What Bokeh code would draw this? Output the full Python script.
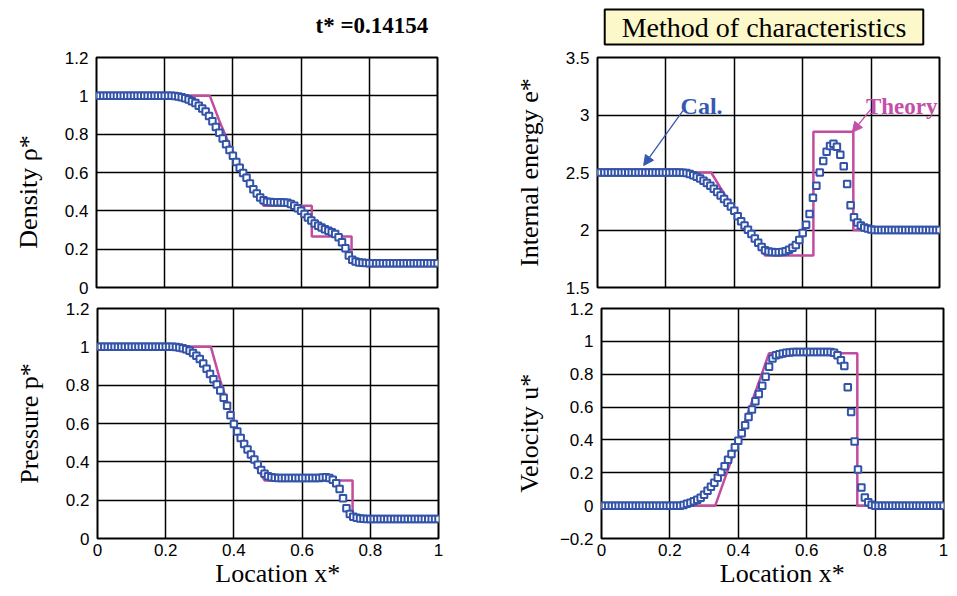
from bokeh.plotting import figure
from bokeh.models import Range1d, FixedTicker, Label, Arrow, NormalHead
from bokeh.layouts import column, row
from bokeh.embed import file_html
from bokeh.resources import INLINE

# ---------------- data ----------------
x_cal = [0.00, 0.01, 0.02, 0.03, 0.04, 0.05, 0.06, 0.07, 0.08, 0.09,
         0.10, 0.11, 0.12, 0.13, 0.14, 0.15, 0.16, 0.17, 0.18, 0.19,
         0.20, 0.21, 0.22, 0.23, 0.24, 0.25, 0.26, 0.27, 0.28, 0.29,
         0.30, 0.31, 0.32, 0.33, 0.34, 0.35, 0.36, 0.37, 0.38, 0.39,
         0.40, 0.41, 0.42, 0.43, 0.44, 0.45, 0.46, 0.47, 0.48, 0.49,
         0.50, 0.51, 0.52, 0.53, 0.54, 0.55, 0.56, 0.57, 0.58, 0.59,
         0.60, 0.61, 0.62, 0.63, 0.64, 0.65, 0.66, 0.67, 0.68, 0.69,
         0.70, 0.71, 0.72, 0.73, 0.74, 0.75, 0.76, 0.77, 0.78, 0.79,
         0.80, 0.81, 0.82, 0.83, 0.84, 0.85, 0.86, 0.87, 0.88, 0.89,
         0.90, 0.91, 0.92, 0.93, 0.94, 0.95, 0.96, 0.97, 0.98, 0.99,
         1.00]

rho_cal = [1.0, 1.0, 1.0, 1.0, 1.0, 1.0, 1.0, 1.0, 1.0, 1.0,
           1.0, 1.0, 1.0, 1.0, 1.0, 1.0, 1.0, 1.0, 1.0, 1.0,
           1.0, 1.0, 1.0, 0.999, 0.997, 0.993, 0.988, 0.981, 0.972, 0.962,
           0.948, 0.934, 0.918, 0.895, 0.868, 0.838, 0.808, 0.778, 0.748, 0.718,
           0.688, 0.655, 0.625, 0.598, 0.573, 0.543, 0.513, 0.490, 0.470, 0.455,
           0.448, 0.446, 0.445, 0.445, 0.445, 0.444, 0.442, 0.436, 0.426, 0.414,
           0.400, 0.383, 0.365, 0.349, 0.334, 0.322, 0.313, 0.304, 0.296, 0.288,
           0.279, 0.262, 0.236, 0.205, 0.167, 0.145, 0.136, 0.131, 0.129, 0.128,
           0.127, 0.127, 0.127, 0.127, 0.127, 0.127, 0.127, 0.127, 0.127, 0.127,
           0.127, 0.127, 0.127, 0.127, 0.127, 0.127, 0.127, 0.127, 0.127, 0.127,
           0.127]

e_cal = [2.5, 2.5, 2.5, 2.5, 2.5, 2.5, 2.5, 2.5, 2.5, 2.5,
         2.5, 2.5, 2.5, 2.5, 2.5, 2.5, 2.5, 2.5, 2.5, 2.5,
         2.5, 2.5, 2.5, 2.5, 2.499, 2.497, 2.495, 2.487, 2.477, 2.462,
         2.447, 2.428, 2.409, 2.385, 2.358, 2.330, 2.300, 2.270, 2.238, 2.205,
         2.167, 2.120, 2.077, 2.040, 2.003, 1.965, 1.926, 1.890, 1.853, 1.825,
         1.812, 1.808, 1.806, 1.806, 1.808, 1.815, 1.828, 1.845, 1.870, 1.912,
         1.975, 2.045, 2.140, 2.280, 2.385, 2.500, 2.600, 2.680, 2.730, 2.750,
         2.725, 2.655, 2.555, 2.400, 2.215, 2.110, 2.065, 2.040, 2.022, 2.012,
         2.005, 2.0, 2.0, 2.0, 2.0, 2.0, 2.0, 2.0, 2.0, 2.0,
         2.0, 2.0, 2.0, 2.0, 2.0, 2.0, 2.0, 2.0, 2.0, 2.0,
         2.0]

p_cal = [1.0, 1.0, 1.0, 1.0, 1.0, 1.0, 1.0, 1.0, 1.0, 1.0,
         1.0, 1.0, 1.0, 1.0, 1.0, 1.0, 1.0, 1.0, 1.0, 1.0,
         1.0, 1.0, 1.0, 0.999, 0.997, 0.993, 0.988, 0.979, 0.968, 0.954,
         0.936, 0.913, 0.886, 0.858, 0.831, 0.803, 0.772, 0.735, 0.692, 0.643,
         0.598, 0.558, 0.524, 0.493, 0.464, 0.438, 0.412, 0.385, 0.358, 0.338,
         0.325, 0.319, 0.317, 0.316, 0.316, 0.316, 0.316, 0.316, 0.316, 0.316,
         0.316, 0.316, 0.316, 0.316, 0.316, 0.316, 0.318, 0.320, 0.316, 0.306,
         0.288, 0.258, 0.210, 0.158, 0.128, 0.114, 0.108, 0.105, 0.103, 0.102,
         0.102, 0.102, 0.102, 0.102, 0.102, 0.102, 0.102, 0.102, 0.102, 0.102,
         0.102, 0.102, 0.102, 0.102, 0.102, 0.102, 0.102, 0.102, 0.102, 0.102,
         0.102]

u_cal = [0.0, 0.0, 0.0, 0.0, 0.0, 0.0, 0.0, 0.0, 0.0, 0.0,
         0.0, 0.0, 0.0, 0.0, 0.0, 0.0, 0.0, 0.0, 0.0, 0.0,
         0.0, 0.0, 0.0, 0.0, 0.004, 0.012, 0.018, 0.026, 0.036, 0.048,
         0.066, 0.090, 0.115, 0.140, 0.170, 0.205, 0.240, 0.280, 0.315, 0.355,
         0.395, 0.440, 0.490, 0.540, 0.585, 0.635, 0.680, 0.730, 0.785, 0.845,
         0.895, 0.915, 0.922, 0.926, 0.930, 0.932, 0.935, 0.935, 0.935, 0.935,
         0.935, 0.935, 0.935, 0.935, 0.935, 0.935, 0.935, 0.935, 0.930, 0.915,
         0.885, 0.850, 0.720, 0.570, 0.390, 0.220, 0.110, 0.050, 0.020, 0.005,
         0.0, 0.0, 0.0, 0.0, 0.0, 0.0, 0.0, 0.0, 0.0, 0.0,
         0.0, 0.0, 0.0, 0.0, 0.0, 0.0, 0.0, 0.0, 0.0, 0.0,
         0.0]

x_theory = [0.0, 0.3325, 0.36, 0.39, 0.42, 0.45, 0.490, 0.6313, 0.6313, 0.748, 0.748, 1.0]
rho_theory = [1.0, 1.0, 0.8705, 0.7449, 0.6342, 0.5371, 0.4263, 0.4263, 0.2656, 0.2656, 0.125, 0.125]
e_theory = [2.5, 2.5, 2.365, 2.222, 2.084, 1.950, 1.778, 1.778, 2.854, 2.854, 2.0, 2.0]
p_theory = [1.0, 1.0, 0.8236, 0.6622, 0.5287, 0.4189, 0.3031, 0.3031, 0.3031, 0.3031, 0.1, 0.1]
u_theory = [0.0, 0.0, 0.1618, 0.3383, 0.515, 0.6916, 0.9275, 0.9275, 0.9275, 0.9275, 0.0, 0.0]

x_ticks = [0.0, 0.2, 0.4, 0.6, 0.8, 1.0]
x_tick_labels = ["0", "0.2", "0.4", "0.6", "0.8", "1"]
rp_ticks = [0.0, 0.2, 0.4, 0.6, 0.8, 1.0, 1.2]
rp_tick_labels = ["0", "0.2", "0.4", "0.6", "0.8", "1", "1.2"]
e_ticks = [1.5, 2.0, 2.5, 3.0, 3.5]
e_tick_labels = ["1.5", "2", "2.5", "3", "3.5"]
u_ticks = [-0.2, 0.0, 0.2, 0.4, 0.6, 0.8, 1.0, 1.2]
u_tick_labels = ["\u22120.2", "0", "0.2", "0.4", "0.6", "0.8", "1", "1.2"]

# ---------------- style ----------------
BLUE = "#3253A8"
MAG = "#C24C9F"
SERIF = "Liberation Serif"
SANS = "Liberation Sans"
NB = "\u00a0"


def make_header(width, height):
    h = figure(width=width, height=height, x_range=Range1d(0, width), y_range=Range1d(0, height),
               output_backend="svg", toolbar_location=None,
               x_axis_location=None, y_axis_location=None,
               min_border_left=0, min_border_right=0, min_border_top=0, min_border_bottom=0)
    h.outline_line_color = None
    h.xgrid.visible = False
    h.ygrid.visible = False
    h.background_fill_color = "white"
    h.border_fill_color = "white"
    return h


def make_fig(width, height, left, right, top, bottom, yr, yticks, ylabels, show_x):
    p = figure(width=width, height=height, x_range=Range1d(0, 1), y_range=Range1d(*yr),
               output_backend="svg", toolbar_location=None,
               min_border_left=left, min_border_right=right,
               min_border_top=top, min_border_bottom=bottom)
    p.background_fill_color = "white"
    p.border_fill_color = "white"
    p.outline_line_color = "black"
    p.outline_line_width = 2
    xt = FixedTicker(ticks=x_ticks)
    yt = FixedTicker(ticks=yticks)
    p.xaxis.ticker = xt
    p.yaxis.ticker = yt
    p.xgrid.ticker = xt
    p.ygrid.ticker = yt
    for g in (p.xgrid, p.ygrid):
        g.grid_line_color = "black"
        g.grid_line_width = 1.5
        g.grid_line_alpha = 1.0
    for ax in (p.xaxis, p.yaxis):
        ax.axis_line_color = None
        ax.major_tick_line_color = None
        ax.minor_tick_line_color = None
        ax.major_tick_in = 0
        ax.major_tick_out = 0
        ax.major_label_text_font = SANS
        ax.major_label_text_font_size = "17px"
        ax.major_label_text_color = "black"
        ax.axis_label_text_font = SERIF
        ax.axis_label_text_font_style = "normal"
        ax.axis_label_text_color = "black"
    p.yaxis.axis_label_text_font_size = "26px"
    p.xaxis.axis_label_text_font_size = "26px"
    p.yaxis.major_label_overrides = {t: s for t, s in zip(yticks, ylabels)}
    p.yaxis.major_label_standoff = 8
    p.xaxis.major_label_overrides = {t: s for t, s in zip(x_ticks, x_tick_labels)}
    p.xaxis.major_label_standoff = 5
    p.xaxis.axis_label_standoff = 0
    if not show_x:
        p.xaxis.visible = False
    return p


def add_series(p, xt, yt, xc, yc):
    p.line(xt, yt, line_color=MAG, line_width=2.5)
    p.scatter(xc, yc, marker="square", size=6.5, line_color=BLUE, line_width=2,
              fill_color="white")


# headers (titles above the top panels)
hl = make_header(480, 46)
hl.add_layout(Label(x=315, y=21, text="t* =0.14154", text_align="left", text_baseline="alphabetic",
                    text_font=SERIF, text_font_size="23px", text_font_style="bold",
                    text_color="black"))
hr = make_header(477, 46)
hr.add_layout(Label(x=283.5, y=19.5, text="Method of characteristics", text_align="center",
                    text_baseline="middle", text_font=SERIF, text_font_size="28px",
                    text_color="black", background_fill_color="#FCF8CA",
                    border_line_color="black", border_line_width=2,
                    padding=dict(left=17, right=17, top=2, bottom=2)))

# top-left: density
tl = make_fig(480, 251, 96, 43, 10, 10, (0, 1.2), rp_ticks, rp_tick_labels, False)
add_series(tl, x_theory, rho_theory, x_cal, rho_cal)
tl.yaxis.axis_label = "Density \u03c1*" + NB * 6
tl.yaxis.axis_label_standoff = 19

# top-right: internal energy
tr = make_fig(477, 251, 117, 18, 11, 10, (1.5, 3.5), e_ticks, e_tick_labels, False)
add_series(tr, x_theory, e_theory, x_cal, e_cal)
tr.yaxis.axis_label = "Internal energy e*"
tr.yaxis.axis_label_standoff = 19
tr.add_layout(Label(x=0.243, y=3.074, text="Cal.", text_align="left", text_baseline="alphabetic",
                    text_font=SERIF, text_font_size="24px", text_font_style="bold",
                    text_color="#3558B0"))
tr.add_layout(Label(x=0.785, y=3.074, text="Theory", text_align="left", text_baseline="alphabetic",
                    text_font=SERIF, text_font_size="23px", text_font_style="bold",
                    text_color="#C54FA6"))
tr.add_layout(Arrow(x_start=0.25, y_start=3.039, x_end=0.135, y_end=2.561,
                    line_color="#3558B0", line_width=1.3,
                    end=NormalHead(size=10, fill_color="#3558B0", line_color="#3558B0")))
tr.add_layout(Arrow(x_start=0.80, y_start=3.054, x_end=0.745, y_end=2.85,
                    line_color="#C54FA6", line_width=1.3,
                    end=NormalHead(size=10, fill_color="#C54FA6", line_color="#C54FA6")))

# bottom-left: pressure
bl = make_fig(480, 299, 97, 42, 9, 58, (0, 1.2), rp_ticks, rp_tick_labels, True)
add_series(bl, x_theory, p_theory, x_cal, p_cal)
bl.yaxis.axis_label = "Pressure p*"
bl.yaxis.axis_label_standoff = 19
bl.xaxis.axis_label = NB * 3 + "Location x*"

# bottom-right: velocity
br = make_fig(477, 299, 121, 14, 11, 57, (-0.2, 1.2), u_ticks, u_tick_labels, True)
add_series(br, x_theory, u_theory, x_cal, u_cal)
br.yaxis.axis_label = "Velocity u*" + NB * 3
br.yaxis.axis_label_standoff = 13
br.xaxis.axis_label = NB * 3 + "Location x*"

layout = column(row(hl, hr), row(tl, tr), row(bl, br))
open("out.html", "w").write(file_html(layout, INLINE))
